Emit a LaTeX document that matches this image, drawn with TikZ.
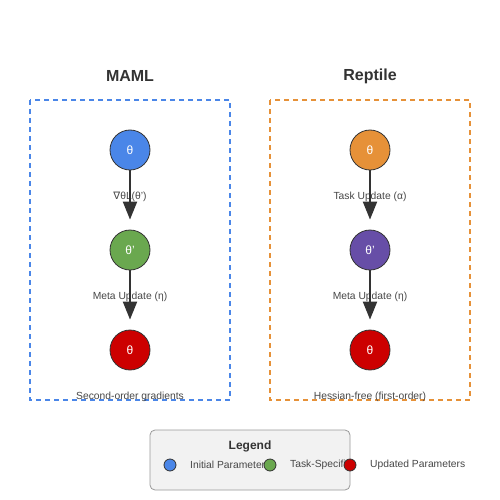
\documentclass[tikz,border=0pt]{standalone}
\usepackage{fontspec}
\setmainfont{Liberation Sans}
\newfontfamily\nablafont{DejaVu Sans}
\usetikzlibrary{arrows.meta}
\definecolor{paramblue}{HTML}{4A86E8}
\definecolor{paramgreen}{HTML}{6AA84F}
\definecolor{paramred}{HTML}{CC0000}
\definecolor{paramorange}{HTML}{E69138}
\definecolor{parampurple}{HTML}{674EA7}
\definecolor{inkgray}{HTML}{333333}
\begin{document}
\begin{tikzpicture}[x=1pt, y=-1pt,
    param/.style={circle, draw=inkgray, line width=0.8pt, fill=#1, minimum size=40pt, inner sep=0pt, text=white, font=\fontsize{12}{12}\selectfont},
    dot/.style={circle, draw=inkgray, line width=0.8pt, fill=#1, minimum size=12pt, inner sep=0pt},
    update/.style={-{Triangle[length=18pt, width=14pt]}, line width=2pt, draw=inkgray, shorten >=10pt},
    steplabel/.style={text=inkgray!90, font=\fontsize{10.3}{12}\selectfont, inner sep=0pt},
    title/.style={text=inkgray, font=\fontsize{16}{18}\selectfont\bfseries}]
    \fill[white] (0,0) rectangle (500,500);
    \useasboundingbox (0,0) rectangle (500,500);
    % titles
    \node[title] (mamltitle) at (130,76) {MAML};
    \node[title] (reptiletitle) at (370,76) {Reptile};
    % dashed frames
    \draw[paramblue, line width=1.5pt, dash pattern=on 5pt off 4pt] (30,100) rectangle (230,400);
    \draw[paramorange, line width=1.5pt, dash pattern=on 5pt off 4pt] (270,100) rectangle (470,400);
    % step labels
    \node[steplabel] (mamlgrad) at (130,197) {{\nablafont ∇}θL(θ')};
    \node[steplabel] (mamlmeta) at (130,297) {Meta Update (η)};
    \node[steplabel] (reptask) at (370,197) {Task Update (α)};
    \node[steplabel] (repmeta) at (370,297) {Meta Update (η)};
    % parameters
    \node[param=paramblue] (mamlinit) at (130,150) {θ};
    \node[param=paramgreen] (mamltask) at (130,250) {θ'};
    \node[param=paramred] (mamlnew) at (130,350) {θ};
    \node[param=paramorange] (repinit) at (370,150) {θ};
    \node[param=parampurple] (reptaskp) at (370,250) {θ'};
    \node[param=paramred] (repnew) at (370,350) {θ};
    \draw[update] (mamlinit) -- (mamltask);
    \draw[update] (mamltask) -- (mamlnew);
    \draw[update] (repinit) -- (reptaskp);
    \draw[update] (reptaskp) -- (repnew);
    % notes under the frames
    \node[steplabel] (mamlnote) at (130,397) {Second-order gradients};
    \node[steplabel] (repnote) at (370,397) {Hessian-free (first-order)};
    % legend
    \draw[fill=black!5, draw=black!40, line width=0.8pt, rounded corners=5pt] (150,430) rectangle (350,490);
    \node[text=inkgray, font=\fontsize{12}{14}\selectfont\bfseries] (legendtitle) at (250,446) {Legend};
    \node[steplabel, anchor=west] (initlabel) at (190,465) {Initial Parameters};
    \node[steplabel, anchor=west] (tasklabel) at (290,465) {Task-Specific};
    \node[steplabel, anchor=west] (newlabel) at (370,465) {Updated Parameters};
    \node[dot=paramblue] (initdot) at (170,465) {};
    \node[dot=paramgreen] (taskdot) at (270,465) {};
    \node[dot=paramred] (newdot) at (350,465) {};
\end{tikzpicture}
\end{document}
